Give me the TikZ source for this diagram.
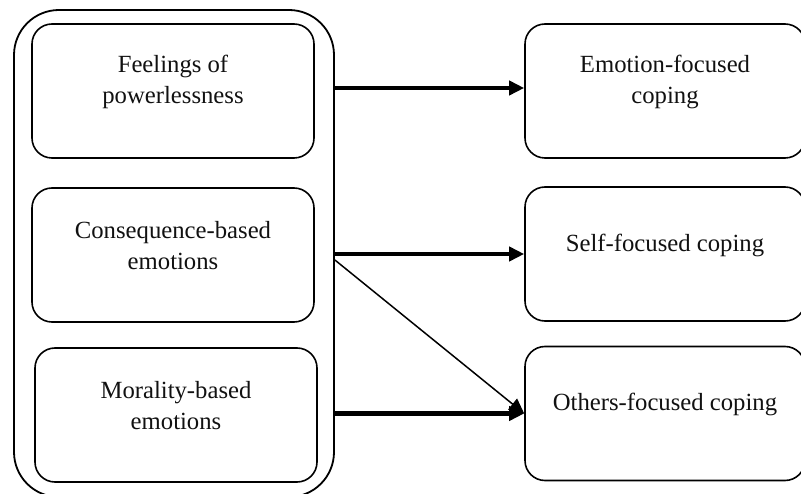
\documentclass[tikz,border=0pt]{standalone}
\usepackage{fontspec}
\setmainfont{Liberation Serif}
\usetikzlibrary{arrows.meta}
\newlength{\boxwidth}
\newlength{\boxheight}
\newlength{\boxradius}
\setlength{\boxwidth}{282pt}
\setlength{\boxheight}{134pt}
\setlength{\boxradius}{20pt}
\definecolor{mainline}{HTML}{000000}
\definecolor{mainfont}{HTML}{111111}

\begin{document}
\begin{tikzpicture}[x=1pt,y=-1pt,
    box/.style={draw=mainline,line width=1.6pt,rounded corners=\boxradius,
      minimum width=\boxwidth,minimum height=\boxheight,inner sep=0pt},
    boxtext/.style={align=center,yshift=9pt,text=mainfont,
      font=\fontsize{24.7}{31}\selectfont},
    group/.style={draw=mainline,line width=1.8pt,rounded corners=45pt,
      minimum width=320pt,minimum height=487pt,inner sep=0pt},
    mainarrow/.style={draw=mainline,line width=4pt,-{Triangle[length=15pt,width=14pt]}},
    sidearrow/.style={draw=mainline,line width=1.5pt,-{Triangle[length=15pt,width=14pt]}}]
  % Boundary box
  \useasboundingbox (0,0) rectangle (801,494);

  % Group of emotions
  \node[group] (outer) at (174,253.5) {};
  \node[box,label={[boxtext]center:{Feelings of\\powerlessness}}] (feel) at (173,91) {};
  \node[box,label={[boxtext]center:{Consequence-based\\emotions}}] (cons) at (173,255) {};
  \node[box,label={[boxtext]center:{Morality-based\\emotions}}] (moral) at (176,415) {};

  % Coping
  \node[box,minimum width=280pt,label={[boxtext]center:{Emotion-focused\\coping}}] (emo) at (665,91) {};
  \node[box,minimum width=280pt,label={[boxtext]center:{Self-focused coping}}] (self) at (665,254) {};
  \node[box,minimum width=280pt,label={[boxtext]center:{Others-focused coping}}] (others) at (665,413.5) {};

  % Arrows
  \coordinate (split) at ([yshift=-5pt]cons.center -| outer.east);
  \draw[mainarrow] ([yshift=3pt]emo.west -| outer.east) -- ([yshift=3pt]emo.west);
  \draw[mainarrow] (self.west -| outer.east) -- (self.west);
  \draw[mainarrow] (others.west -| outer.east) -- (others.west);
  \draw[sidearrow] (split) -- (others.west);
\end{tikzpicture}
\end{document}
